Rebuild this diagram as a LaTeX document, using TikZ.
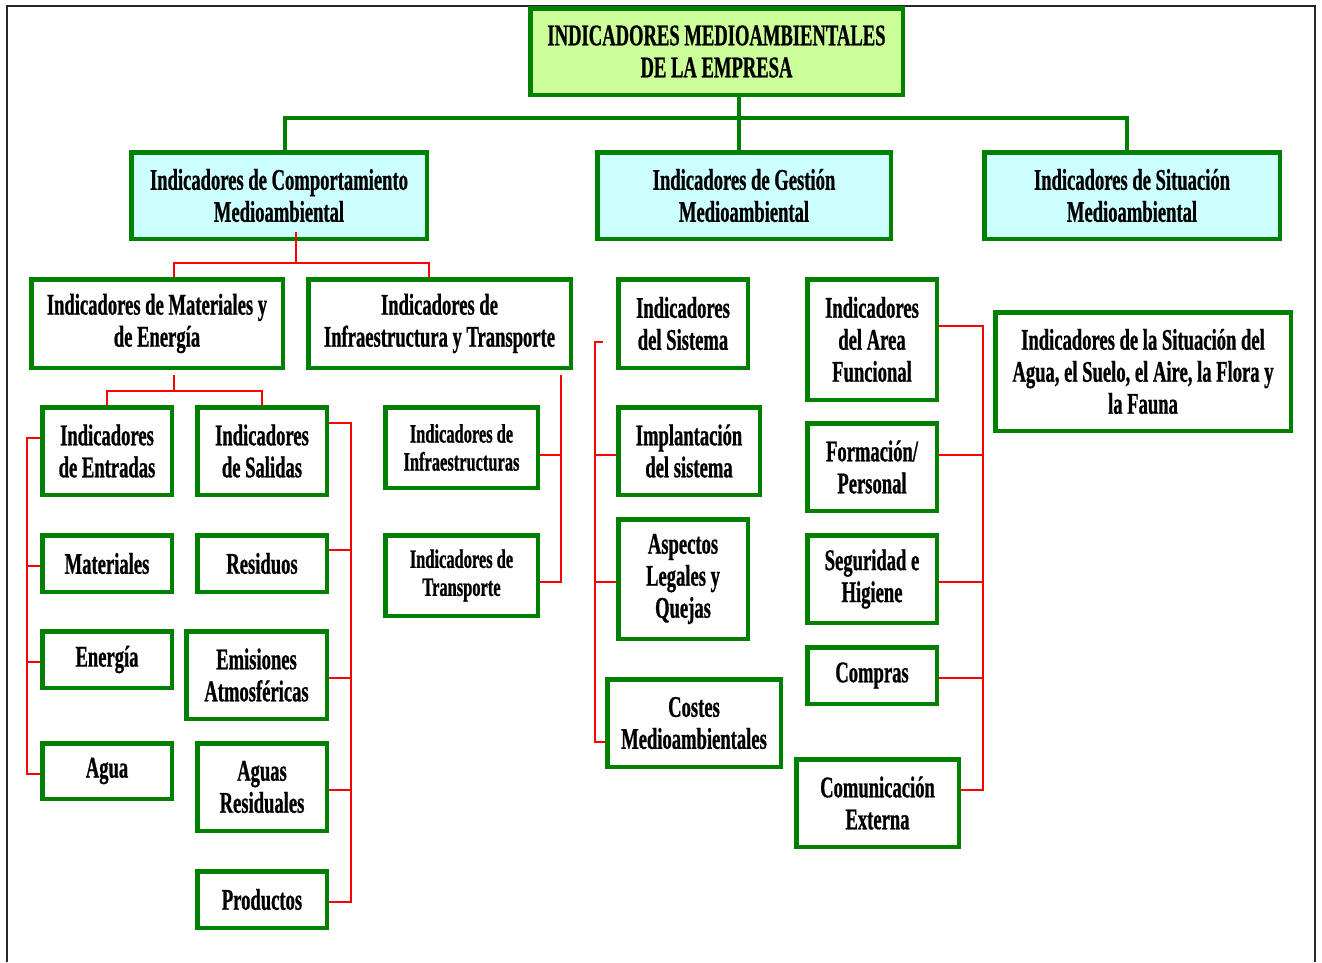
\documentclass[tikz,border=0pt]{standalone}
\usepackage{fontspec}
\setmainfont{Liberation Serif}[FakeStretch=0.62, BoldFeatures={FakeBold=0.8}]
\usetikzlibrary{calc}
\definecolor{boxgreen}{RGB}{0,128,0}
\definecolor{topfill}{RGB}{204,255,153}
\definecolor{midfill}{RGB}{204,255,255}
\definecolor{linkred}{RGB}{255,0,0}
\tikzset{
  gbox/.style={draw=boxgreen, line width=4.5pt, fill=white, inner sep=0pt,
    align=center, font=\bfseries\fontsize{30}{32}\selectfont},
  topbox/.style={gbox, fill=topfill},
  midbox/.style={gbox, fill=midfill},
  smalltext/.style={font=\bfseries\fontsize{26.5}{28}\selectfont},
  gline/.style={draw=boxgreen, line width=4pt},
  rline/.style={draw=linkred, line width=1.6pt},
  frame/.style={draw=black!85, line width=1.6pt}
}
% box: style, name, centre, outer width, outer height, text
\newcommand{\bx}[6]{\node[#1, minimum width=#4-4.5, minimum height=#5-4.5] (#2) at (#3) {#6};}
\begin{document}
\begin{tikzpicture}[x=1pt,y=-1pt]
\useasboundingbox (0,0) rectangle (1322,962);
\draw[frame] (7,962) -- (7,6) -- (1315,6) -- (1315,962);

% ---------- level 0 and 1 ----------
\bx{topbox}{top}{716.5,51.5}{377}{91}{INDICADORES MEDIOAMBIENTALES\\DE LA EMPRESA}
\bx{midbox}{comp}{279,195.5}{300}{91}{Indicadores de Comportamiento\\Medioambiental}
\bx{midbox}{gest}{744,195.5}{298}{91}{Indicadores de Gestión\\Medioambiental}
\bx{midbox}{situ}{1132,195.5}{300}{91}{Indicadores de Situación\\Medioambiental}

% ---------- comportamiento branch ----------
\bx{gbox}{maten}{157,323.5}{256}{93}{Indicadores de Materiales y\\de Energía}
\bx{gbox}{inftr}{439.5,323.5}{267}{93}{Indicadores de\\Infraestructura y Transporte}

\bx{gbox}{entr}{107,451}{134}{92}{Indicadores\\de Entradas}
\bx{gbox}{sal}{262,451}{134}{92}{Indicadores\\de Salidas}
\bx{gbox}{mat}{107,563.5}{134}{61}{Materiales}
\bx{gbox}{res}{262,563.5}{134}{61}{Residuos}
\bx{gbox}{ener}{107,659.5}{134}{61}{Energía}
\bx{gbox}{emis}{256.5,675}{145}{92}{Emisiones\\Atmosféricas}
\bx{gbox}{agua}{107,771}{134}{60}{Agua}
\bx{gbox}{aguasr}{262,787}{134}{92}{Aguas\\Residuales}
\bx{gbox}{prod}{262,899.5}{134}{61}{Productos}

\bx{gbox,smalltext}{infra}{461.5,447.5}{157}{85}{Indicadores de\\Infraestructuras}
\bx{gbox,smalltext}{transp}{461.5,575.5}{157}{85}{Indicadores de\\Transporte}

% ---------- gestion branch ----------
\bx{gbox}{sist}{683,323.5}{134}{93}{Indicadores\\del Sistema}
\bx{gbox}{impl}{689,451}{146}{92}{Implantación\\del sistema}
\bx{gbox}{asp}{683,579}{134}{124}{Aspectos\\Legales y\\Quejas}
\bx{gbox}{costes}{694,723}{178}{92}{Costes\\Medioambientales}

\bx{gbox}{area}{872,339.5}{134}{125}{Indicadores\\del Area\\Funcional}
\bx{gbox}{form}{872,467}{134}{92}{Formación/\\Personal}
\bx{gbox}{seg}{872,579}{134}{92}{Seguridad e\\Higiene}
\bx{gbox}{compras}{872,675.5}{134}{61}{Compras}
\bx{gbox}{comun}{877.5,803}{167}{92}{Comunicación\\Externa}

% ---------- situacion branch ----------
\bx{gbox}{agsu}{1143,371.5}{300}{123}{Indicadores de la Situación del\\Agua, el Suelo, el Aire, la Flora y\\la Fauna}

% ---------- green trunk ----------
\coordinate (gbus) at (739,118);
\draw[gline] ([xshift=6pt]comp.north) |- (gbus) -| ([xshift=-5pt]situ.north);
\draw[gline] (gbus |- top.south) -- (gbus |- gest.north);

% ---------- red links ----------
\coordinate (rb1) at (296,263);
\draw[rline] ($(comp.south -| rb1)+(0,-9)$) -- (rb1);
\draw[rline] ([xshift=17pt]maten.north) |- (rb1) -| ([xshift=-10.5pt]inftr.north);

\coordinate (rb2) at (174,391);
\draw[rline] ($(maten.south -| rb2)+(0,5)$) -- (rb2);
\draw[rline] (entr.north) |- (rb2) -| (sal.north);

% left spine: entradas, materiales, energia, agua
\coordinate (lsp) at (27,0);
\draw[rline] ([yshift=13pt]entr.west) -| ([yshift=-3pt]agua.west -| lsp) -- ([yshift=-3pt]agua.west);
\draw[rline] ([yshift=-2.5pt]mat.west -| lsp) -- ([yshift=-2.5pt]mat.west);
\draw[rline] ([yshift=-2.5pt]ener.west -| lsp) -- ([yshift=-2.5pt]ener.west);

% right spine: salidas ... productos
\coordinate (rsp) at (351,0);
\draw[rline] ([yshift=28pt]sal.east) -| ([yshift=-2.5pt]prod.east -| rsp) -- ([yshift=-2.5pt]prod.east);
\draw[rline] ([yshift=13.5pt]res.east) -- ([yshift=13.5pt]res.east -| rsp);
\draw[rline] ([yshift=-3pt]emis.east) -- ([yshift=-3pt]emis.east -| rsp);
\draw[rline] ([yshift=-3pt]aguasr.east) -- ([yshift=-3pt]aguasr.east -| rsp);

% infrastructure spine
\coordinate (isp) at (561,0);
\draw[rline] ($(inftr.south -| isp)+(0,5)$) |- ([yshift=-6.5pt]transp.east);
\draw[rline] ([yshift=-7.5pt]infra.east) -- ([yshift=-7.5pt]infra.east -| isp);

% management spine
\coordinate (msp) at (595,0);
\draw[rline] ($(sist.west)+(-13,18.5)$) -| ([yshift=-19pt]costes.west -| msp) -- ([yshift=-19pt]costes.west);
\draw[rline] ([yshift=-4pt]impl.west) -- ([yshift=-4pt]impl.west -| msp);
\draw[rline] ([yshift=-3pt]asp.west) -- ([yshift=-3pt]asp.west -| msp);

% functional spine
\coordinate (fsp) at (983,0);
\draw[rline] ([yshift=13.5pt]area.east) -| ([yshift=13pt]comun.east -| fsp) -- ([yshift=13pt]comun.east);
\draw[rline] ([yshift=12pt]form.east) -- ([yshift=12pt]form.east -| fsp);
\draw[rline] ([yshift=-3pt]seg.east) -- ([yshift=-3pt]seg.east -| fsp);
\draw[rline] ([yshift=-2.5pt]compras.east) -- ([yshift=-2.5pt]compras.east -| fsp);
\end{tikzpicture}
\end{document}
